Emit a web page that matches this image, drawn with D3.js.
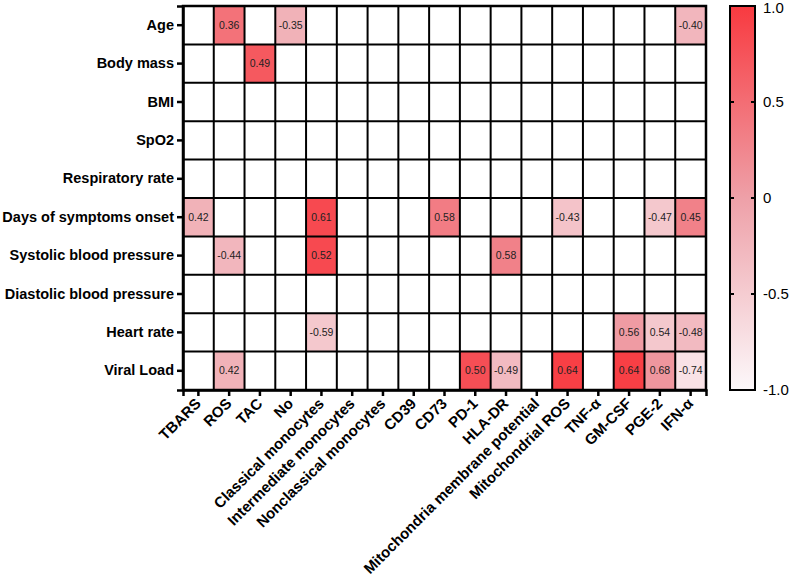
<!DOCTYPE html>
<html><head><meta charset="utf-8">
<script src="https://cdn.jsdelivr.net/npm/d3@7"></script>
<style>body{margin:0;background:#fff}svg{display:block}</style>
</head><body>
<svg id="chart" width="793" height="581"></svg>
<script>
const rows = ["Age","Body mass","BMI","SpO2","Respiratory rate","Days of symptoms onset","Systolic blood pressure","Diastolic blood pressure","Heart rate","Viral Load"];
const cols = ["TBARS","ROS","TAC","No","Classical monocytes","Intermediate monocytes","Nonclassical monocytes","CD39","CD73","PD-1","HLA-DR","Mitochondria membrane potential","Mitochondrial ROS","TNF-α","GM-CSF","PGE-2","IFN-α"];
// significant cells: [row, column, printed r]
const cellRow = [0,0,0,1,5,5,5,5,5,5,6,6,6,8,8,8,8,9,9,9,9,9,9,9];
const cellCol = [1,3,16,2,0,4,8,12,15,16,1,4,10,4,14,15,16,1,9,10,12,14,15,16];
const cellR   = [0.36,-0.35,-0.40,0.49,0.42,0.61,0.58,-0.43,-0.47,0.45,-0.44,0.52,0.58,-0.59,0.56,0.54,-0.48,0.42,0.50,-0.49,0.64,0.64,0.68,-0.74];
// shade of each cell read against the colour bar
const cellShade = [0.45,-0.2,-0.25,0.7,-0.2,0.85,0.35,-0.4,-0.45,0.3,-0.25,0.85,0.3,-0.45,0.05,-0.45,-0.3,-0.2,0.8,-0.3,0.95,0.95,0.1,-0.75];
const legendTicks = [1.0,0.5,0,-0.5,-1.0];
const legendTickLabels = ["1.0","0.5","0","-0.5","-1.0"];

const svg = d3.select("#chart");
const m = {left:183, top:6, right:706, bottom:390};
const x = d3.scaleBand().domain(cols).range([m.left, m.right]).padding(0);
const y = d3.scaleBand().domain(rows).range([m.top, m.bottom]).padding(0);
const color = d3.scaleLinear().domain([-1,0,1]).range(["#fcf8fa","#eea0a8","#f83a40"]);
const FONT = "Liberation Sans, Arial, sans-serif";

const g = svg.append("g");
rows.forEach(r => cols.forEach(c => {
  g.append("rect").attr("x", x(c)).attr("y", y(r)).attr("width", x.bandwidth()).attr("height", y.bandwidth())
    .attr("fill","#fff");
}));
cellR.forEach((v,i) => {
  const r = rows[cellRow[i]], c = cols[cellCol[i]];
  g.append("rect").attr("x", x(c)).attr("y", y(r)).attr("width", x.bandwidth()).attr("height", y.bandwidth())
    .attr("fill", color(cellShade[i]));
  g.append("text").attr("x", x(c)+x.bandwidth()/2).attr("y", y(r)+y.bandwidth()/2).attr("dy","0.35em")
    .attr("text-anchor","middle").attr("font-family",FONT).attr("font-size",10.5)
    .attr("fill","#222").text(v.toFixed(2));
});
cols.forEach(c => g.append("line").attr("x1",x(c)).attr("x2",x(c)).attr("y1",m.top).attr("y2",m.bottom).attr("stroke","#000").attr("stroke-width",2));
rows.forEach(r => g.append("line").attr("x1",m.left).attr("x2",m.right).attr("y1",y(r)).attr("y2",y(r)).attr("stroke","#000").attr("stroke-width",2));
g.append("rect").attr("x",m.left).attr("y",m.top).attr("width",m.right-m.left).attr("height",m.bottom-m.top)
  .attr("fill","none").attr("stroke","#000").attr("stroke-width",2.5);

const yAxis = g.append("g").attr("transform",`translate(${m.left},0)`).call(d3.axisLeft(y).tickSize(6).tickPadding(3));
yAxis.select(".domain").attr("stroke-width",2.5);
yAxis.selectAll(".tick line").attr("stroke-width",2.5);
yAxis.selectAll("text").attr("font-family",FONT).attr("font-weight","bold").attr("font-size",14.5).attr("fill","#000");

const xAxis = g.append("g").attr("transform",`translate(0,${m.bottom})`).call(d3.axisBottom(x).tickSize(6).tickPadding(3));
xAxis.select(".domain").attr("stroke-width",2.5);
xAxis.selectAll(".tick line").attr("stroke-width",2.5);
xAxis.selectAll("text").attr("font-family",FONT).attr("font-weight","bold").attr("font-size",15).attr("fill","#000")
  .attr("text-anchor","end").attr("dy","0.2em").attr("transform","translate(-5,6) rotate(-45)");

const lx = 730, lw = 25;
const ly = d3.scaleLinear().domain([-1,1]).range([390,6]);
const defs = svg.append("defs");
const grad = defs.append("linearGradient").attr("id","lg").attr("x1",0).attr("y1",1).attr("x2",0).attr("y2",0);
[-1,-0.5,0,0.5,1].forEach(v => grad.append("stop").attr("offset",(v+1)/2).attr("stop-color",color(v)));
svg.append("rect").attr("x",lx).attr("y",ly(1)).attr("width",lw).attr("height",ly(-1)-ly(1)).attr("fill","url(#lg)").attr("stroke","#000").attr("stroke-width",2);
legendTicks.forEach((v,i) => {
  if (Math.abs(v) < 1) {
    svg.append("line").attr("x1",lx).attr("x2",lx+4).attr("y1",ly(v)).attr("y2",ly(v)).attr("stroke","#000").attr("stroke-width",2);
    svg.append("line").attr("x1",lx+lw-4).attr("x2",lx+lw).attr("y1",ly(v)).attr("y2",ly(v)).attr("stroke","#000").attr("stroke-width",2);
  }
  svg.append("text").attr("x",763).attr("y",Math.max(ly(v),8)).attr("dy","0.35em").attr("font-family",FONT)
    .attr("font-size",15).attr("fill","#000").text(legendTickLabels[i]);
});
</script>
</body></html>
